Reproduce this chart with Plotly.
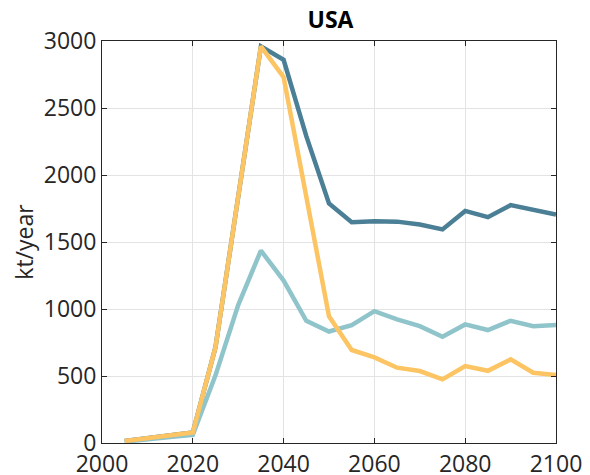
import plotly.graph_objects as go

years = [2005, 2010, 2015, 2020, 2025, 2030, 2035, 2040, 2045, 2050, 2055, 2060,
         2065, 2070, 2075, 2080, 2085, 2090, 2095, 2100]
dark_blue = [15, 35, 50, 78, 715, 1830, 2960, 2860, 2290, 1787, 1648, 1655,
             1652, 1631, 1594, 1732, 1685, 1775, 1743, 1705]
light_blue = [10, 30, 45, 60, 505, 1029, 1436, 1212, 912, 832, 880, 984,
              922, 872, 793, 885, 843, 912, 872, 880]
orange = [15, 35, 50, 78, 715, 1830, 2960, 2730, 1820, 945, 694, 639,
          562, 537, 475, 574, 539, 624, 524, 507]
x_ticks = [2000, 2020, 2040, 2060, 2080, 2100]
y_ticks = [0, 500, 1000, 1500, 2000, 2500, 3000]

series = [
    ("dark", dark_blue, "#4a7f96"),
    ("light", light_blue, "#8fc4cb"),
    ("orange", orange, "#fcc463"),
]

fig = go.Figure()
for name, vals, col in series:
    fig.add_trace(go.Scatter(x=years, y=vals, mode="lines", name=name,
                             line=dict(color=col, width=4.5), showlegend=False))

font_family = "Open Sans, sans-serif"
axis_common = dict(
    showline=True, linecolor="#262626", linewidth=1, mirror="allticks",
    ticks="inside", ticklen=5, tickcolor="#262626",
    showgrid=True, gridcolor="#e3e3e3", gridwidth=1, zeroline=False,
    automargin=False,
    tickfont=dict(size=23, color="#262626", family=font_family),
)
fig.update_xaxes(range=[2000, 2100], tickvals=x_ticks, **axis_common)
fig.update_yaxes(range=[0, 3000], tickvals=y_ticks,
                 title=dict(text="kt/year", font=dict(size=23, color="#262626", family=font_family), standoff=6),
                 **axis_common)

fig.update_layout(
    width=590, height=475,
    margin=dict(l=94, r=42, t=33, b=40),
    paper_bgcolor="white", plot_bgcolor="white",
    title=dict(text="<b>USA</b>", x=0.5466, xanchor="center", xref="container",
               y=0.9747, yanchor="middle", yref="container",
               font=dict(size=23, color="black", family=font_family)),
)

fig.write_html("out.html")
